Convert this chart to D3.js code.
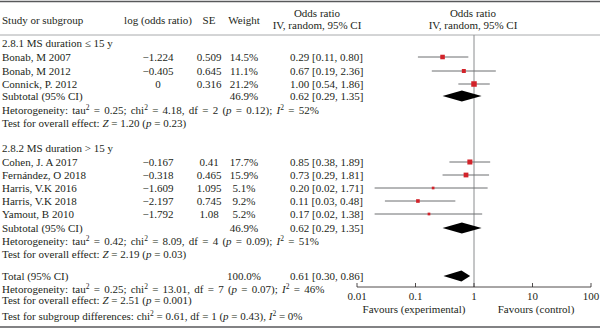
<!DOCTYPE html>
<html>
<head>
<meta charset="utf-8">
<script src="https://cdn.jsdelivr.net/npm/d3@7"></script>
<style>
  body { margin: 0; background: #fff; }
  svg text { font-family: "Liberation Serif", "Times New Roman", serif; font-size: 11px; fill: #231f20; }
  svg text.het { word-spacing: 1.5px; }
</style>
</head>
<body>
<svg id="forest" width="600" height="329"></svg>
<script>
// ======================
// DATA
// ======================

const groupTitles = ["2.8.1 MS duration \u2264 15 y", "2.8.2 MS duration > 15 y"];

const studyNames = [
    "Bonab, M 2007", "Bonab, M 2012", "Connick, P. 2012",
    "Cohen, J. A 2017", "Fern\u00e1ndez, O 2018", "Harris, V.K 2016", "Harris, V.K 2018", "Yamout, B 2010"
];
const studyGroup = [0, 0, 0, 1, 1, 1, 1, 1];
const logOddsText = ["\u22121.224", "\u22120.405", "0", "\u22120.167", "\u22120.318", "\u22121.609", "\u22122.197", "\u22121.792"];
const seText = ["0.509", "0.645", "0.316", "0.41", "0.465", "1.095", "0.745", "1.08"];
const weights = [14.5, 11.1, 21.2, 17.7, 15.9, 5.1, 9.2, 5.2];
const oddsRatio = [0.29, 0.67, 1.00, 0.85, 0.73, 0.20, 0.11, 0.17];
const ciLow = [0.11, 0.19, 0.54, 0.38, 0.29, 0.02, 0.03, 0.02];
const ciHigh = [0.80, 2.36, 1.86, 1.89, 1.81, 1.71, 0.48, 1.38];

// subtotal 1, subtotal 2, total
const pooledLabel = ["Subtotal (95% CI)", "Subtotal (95% CI)", "Total (95% CI)"];
const pooledWeight = ["46.9%", "46.9%", "100.0%"];
const pooledOR = [0.62, 0.62, 0.61];
const pooledLow = [0.29, 0.29, 0.30];
const pooledHigh = [1.35, 1.35, 0.86];

// heterogeneity: [tau2, chi2, df, p, I2]
const hetStats = [
    ["0.25", "4.18", "2", "0.12", "52%"],
    ["0.42", "8.09", "4", "0.09", "51%"],
    ["0.25", "13.01", "7", "0.07", "46%"]
];
// overall effect: [Z, p]
const effectStats = [["1.20", "0.23"], ["2.19", "0.03"], ["2.51", "0.001"]];
const subgroupDiff = ["0.61", "1", "0.43", "0%"];

const axisTicks = [0.01, 0.1, 1, 10, 100];
const axisTickLabels = ["0.01", "0.1", "1", "10", "100"];

// ======================
// LAYOUT
// ======================

const svg = d3.select("#forest");
const col = { study: 2, logOR: 158, se: 209, weight: 244, or: 290, orHead: 317, plotHead: 473 };

const x = d3.scaleLog().domain([0.01, 100]).range([357, 591]);
const axisY = 287;

// row centres
const studyY = [57, 71, 84, 162, 175, 188, 201, 214];
const titleY = [43, 148];
const pooledY = [96, 228, 276];
const hetY = [110, 241, 289];
const effectY = [123, 254, 300];
const diffY = 316;

const gray = "#6d6e71";
const red = "#d2232a";

function txt(xp, yc, s, anchor) {
    return svg.append("text")
        .attr("x", xp)
        .attr("y", yc + 3.8)
        .attr("text-anchor", anchor || "start")
        .text(s);
}

// rich text pieces: [string, style] where style "i" italic, "sup" superscript
function rich(xp, yc, parts) {
    const t = svg.append("text").attr("x", xp).attr("y", yc + 3.8);
    parts.forEach(p => {
        const s = t.append("tspan").text(p[0]);
        if (p[1] === "i") s.style("font-style", "italic");
        if (p[1] === "sup") s.attr("dy", -3.5).style("font-size", "7.5px");
        if (p[1] === "after") s.attr("dy", 3.5);
    });
    return t;
}

// ======================
// RULES
// ======================

svg.append("line").attr("x1", 0).attr("x2", 600).attr("y1", 1.5).attr("y2", 1.5)
    .attr("stroke", "#58595b").attr("stroke-width", 1.5);
svg.append("line").attr("x1", 0).attr("x2", 600).attr("y1", 35).attr("y2", 35)
    .attr("stroke", "#939598").attr("stroke-width", 0.8);
svg.append("line").attr("x1", 0).attr("x2", 600).attr("y1", 327).attr("y2", 327)
    .attr("stroke", "#58595b").attr("stroke-width", 1.5);

// ======================
// HEADER
// ======================

txt(col.study, 20, "Study or subgroup");
txt(col.logOR, 20, "log (odds ratio)", "middle");
txt(col.se, 20, "SE", "middle");
txt(col.weight, 20, "Weight", "middle");
txt(col.orHead, 13, "Odds ratio", "middle");
txt(col.orHead, 25, "IV, random, 95% CI", "middle");
txt(col.plotHead, 13, "Odds ratio", "middle");
txt(col.plotHead, 25, "IV, random, 95% CI", "middle");

// ======================
// TABLE TEXT
// ======================

groupTitles.forEach((g, i) => txt(col.study, titleY[i], g));

studyNames.forEach((name, i) => {
    const y = studyY[i];
    txt(col.study, y, name);
    txt(col.logOR, y, logOddsText[i], "middle");
    txt(col.se, y, seText[i], "middle");
    txt(col.weight, y, weights[i].toFixed(1) + "%", "middle");
    txt(col.or, y, `${oddsRatio[i].toFixed(2)} [${ciLow[i].toFixed(2)}, ${ciHigh[i].toFixed(2)}]`);
});

pooledLabel.forEach((lab, i) => {
    const y = pooledY[i];
    txt(col.study, y, lab);
    txt(col.weight, y, pooledWeight[i], "middle");
    txt(col.or, y, `${pooledOR[i].toFixed(2)} [${pooledLow[i].toFixed(2)}, ${pooledHigh[i].toFixed(2)}]`);
});

hetStats.forEach((h, i) => {
    rich(col.study, hetY[i], [
        ["Hetorogeneity: tau"], ["2", "sup"], [" = " + h[0] + "; chi", "after"], ["2", "sup"],
        [" = " + h[1] + ", df = " + h[2] + " (", "after"], ["p", "i"], [" = " + h[3] + "); "],
        ["I", "i"], ["2", "sup"], [" = " + h[4], "after"]
    ]).attr("class", "het");
});

effectStats.forEach((e, i) => {
    rich(col.study, effectY[i], [
        ["Test for overall effect: "], ["Z", "i"], [" = " + e[0] + " ("], ["p", "i"], [" = " + e[1] + ")"]
    ]);
});

rich(col.study, diffY, [
    ["Test for subgroup differences: chi"], ["2", "sup"],
    [" = " + subgroupDiff[0] + ", df = " + subgroupDiff[1] + " (", "after"], ["p", "i"],
    [" = " + subgroupDiff[2] + "), "], ["I", "i"], ["2", "sup"], [" = " + subgroupDiff[3], "after"]
]);

// ======================
// PLOT
// ======================

// line of no effect
svg.append("line")
    .attr("x1", x(1)).attr("x2", x(1))
    .attr("y1", 35).attr("y2", axisY)
    .attr("stroke", "#8a8c8e").attr("stroke-width", 1);

// confidence intervals
svg.selectAll(".ci")
    .data(studyNames.map((d, i) => i))
    .enter()
    .append("line")
    .attr("class", "ci")
    .attr("x1", i => x(ciLow[i]))
    .attr("x2", i => x(ciHigh[i]))
    .attr("y1", i => studyY[i])
    .attr("y2", i => studyY[i])
    .attr("stroke", gray)
    .attr("stroke-width", 1);

// weighted squares
const boxSize = d3.scaleSqrt().domain([0, 21.2]).range([0, 5.5]);
svg.selectAll(".box")
    .data(studyNames.map((d, i) => i))
    .enter()
    .append("rect")
    .attr("class", "box")
    .attr("x", i => x(oddsRatio[i]) - boxSize(weights[i]) / 2)
    .attr("y", i => studyY[i] - boxSize(weights[i]) / 2)
    .attr("width", i => boxSize(weights[i]))
    .attr("height", i => boxSize(weights[i]))
    .attr("fill", red);

// pooled diamonds
svg.selectAll(".diamond")
    .data(pooledOR.map((d, i) => i))
    .enter()
    .append("path")
    .attr("class", "diamond")
    .attr("d", i => {
        const y = pooledY[i], h = 5.5;
        return `M${x(pooledLow[i])},${y} L${x(pooledOR[i])},${y - h} L${x(pooledHigh[i])},${y} L${x(pooledOR[i])},${y + h} Z`;
    })
    .attr("fill", "#000");

// axis
const axisG = svg.append("g").attr("transform", `translate(0,${axisY})`);
axisG.append("line")
    .attr("x1", x(0.01)).attr("x2", x(100))
    .attr("stroke", "#231f20").attr("stroke-width", 0.8);
axisG.selectAll(".tick")
    .data(axisTicks)
    .enter()
    .append("line")
    .attr("x1", d => x(d)).attr("x2", d => x(d))
    .attr("y1", 0).attr("y2", -4)
    .attr("stroke", "#231f20").attr("stroke-width", 0.8);
axisTicks.forEach((t, i) => txt(x(t), axisY + 9, axisTickLabels[i], "middle"));

txt(414, axisY + 22, "Favours (experimental)", "middle");
txt(536, axisY + 22, "Favours (control)", "middle");
</script>
</body>
</html>
